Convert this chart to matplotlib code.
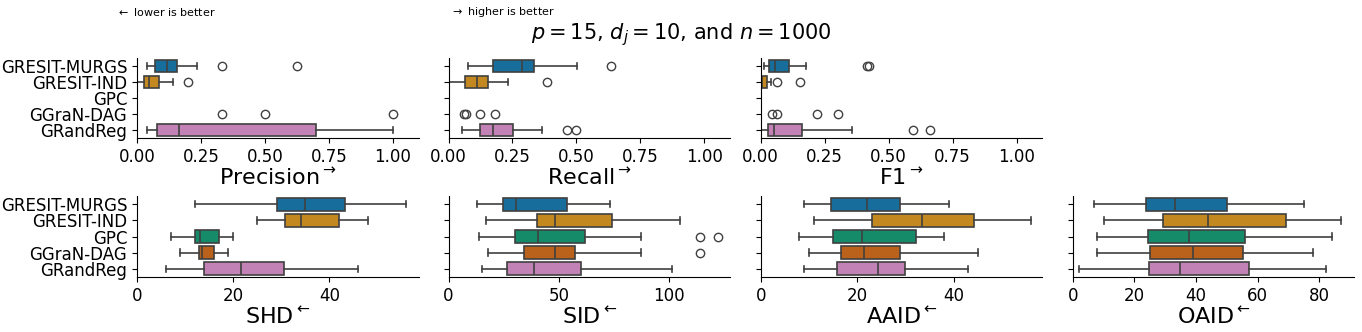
import matplotlib
matplotlib.use("Agg")
import matplotlib.pyplot as plt
import seaborn as sns

methods = ["GRESIT-MURGS", "GRESIT-IND", "GPC", "GGraN-DAG", "GRandReg"]

# box stats per method: (whislo, q1, median, q3, whishi); None = nothing to draw
precision_box = [(0.038, 0.07, 0.116, 0.157, 0.233),
                 (0.0, 0.027, 0.047, 0.086, 0.142),
                 None,
                 (0.0, 0.0, 0.0, 0.0, 0.0),
                 (0.038, 0.08, 0.164, 0.70, 1.0)]
precision_fliers = [[0.333, 0.625], [0.2], [], [0.333, 0.5, 1.0], []]

recall_box = [(0.078, 0.175, 0.288, 0.334, 0.503),
              (0.0, 0.065, 0.11, 0.156, 0.231),
              (0.0, 0.0, 0.0, 0.0, 0.0),
              (0.0, 0.0, 0.0, 0.0, 0.0),
              (0.052, 0.123, 0.173, 0.253, 0.366)]
recall_fliers = [[0.636], [0.386], [], [0.0625, 0.0667, 0.125, 0.182], [0.462, 0.5]]

f1_box = [(0.012, 0.032, 0.054, 0.109, 0.177),
          (0.0, 0.0, 0.005, 0.026, 0.04),
          (0.0, 0.0, 0.0, 0.0, 0.0),
          (0.0, 0.0, 0.0, 0.0, 0.0),
          (0.0, 0.028, 0.052, 0.162, 0.355)]
f1_fliers = [[0.417, 0.424], [0.065, 0.152], [], [0.044, 0.062, 0.22, 0.304], [0.596, 0.66]]

shd_box = [(12, 29.1, 35, 43.3, 56),
           (25, 30.8, 34.1, 42, 48),
           (7, 12, 13, 17, 20),
           (9, 12.8, 13.5, 16, 19),
           (6, 14, 21.6, 30.5, 46)]
shd_fliers = [[], [], [], [], []]

sid_box = [(13, 24.5, 30.5, 53.7, 73),
           (17, 40, 48.4, 74.1, 105),
           (14, 30.2, 40.6, 62, 87),
           (18, 34, 48.4, 57.3, 87),
           (15, 26.3, 38.6, 60, 101)]
sid_fliers = [[], [], [114, 122], [114], []]

aaid_box = [(9, 14.6, 22, 29, 39),
            (11, 23, 33.4, 44.3, 56),
            (8, 15, 21, 32.3, 38),
            (10, 16.6, 21.4, 28.9, 45),
            (9, 15.9, 24.4, 29.9, 43)]
aaid_fliers = [[], [], [], [], []]

oaid_box = [(7, 23.8, 33.3, 50.1, 75),
            (10, 29.4, 43.9, 69, 87),
            (8, 24.4, 37.8, 55.8, 84),
            (8, 24.9, 39, 55.2, 78),
            (2, 24.7, 34.9, 57, 82)]
oaid_fliers = [[], [], [], [], []]

colors = sns.color_palette("colorblind", 5, desat=0.75)
line_col = ".25"


def draw_boxes(ax, boxes, fliers):
    stats, pos, cols = [], [], []
    for i, (b, fl) in enumerate(zip(boxes, fliers)):
        if b is None:
            continue
        stats.append(dict(whislo=b[0], q1=b[1], med=b[2], q3=b[3], whishi=b[4], fliers=fl))
        pos.append(i)
        cols.append(colors[i])
    art = ax.bxp(stats, positions=pos, widths=0.8, orientation="horizontal",
                 patch_artist=True, manage_ticks=False,
                 boxprops=dict(edgecolor=line_col, linewidth=1.2),
                 whiskerprops=dict(color=line_col, linewidth=1.2),
                 capprops=dict(color=line_col, linewidth=1.2),
                 medianprops=dict(color=line_col, linewidth=1.2),
                 flierprops=dict(marker="o", markerfacecolor="none",
                                 markeredgecolor=line_col, markersize=6))
    for patch, c in zip(art["boxes"], cols):
        patch.set_facecolor(c)
    ax.set_ylim(4.5, -0.5)
    ax.set_yticks(range(len(methods)))
    ax.spines["top"].set_visible(False)
    ax.spines["right"].set_visible(False)


fig = plt.figure(figsize=(13.62, 3.32), dpi=100)
W, H = 1362.0, 332.0
lefts = [137, 448.5, 760.7, 1072.7]
width = 281.5

top_panels = [(precision_box, precision_fliers, r"Precision$^{\rightarrow}$"),
              (recall_box, recall_fliers, r"Recall$^{\rightarrow}$"),
              (f1_box, f1_fliers, r"F1$^{\rightarrow}$")]
bottom_panels = [(shd_box, shd_fliers, r"SHD$^{\leftarrow}$", [0, 20, 40]),
                 (sid_box, sid_fliers, r"SID$^{\leftarrow}$", [0, 50, 100]),
                 (aaid_box, aaid_fliers, r"AAID$^{\leftarrow}$", [0, 20, 40]),
                 (oaid_box, oaid_fliers, r"OAID$^{\leftarrow}$", [0, 20, 40, 60, 80])]

for j, (boxes, fl, label) in enumerate(top_panels):
    ax = fig.add_axes([lefts[j] / W, 1 - 138 / H, width / W, 80 / H])
    draw_boxes(ax, boxes, fl)
    ax.set_xlim(0, 1.1)
    ax.set_xticks([0, 0.25, 0.5, 0.75, 1.0])
    ax.set_xticklabels(["0.00", "0.25", "0.50", "0.75", "1.00"])
    ax.set_xlabel(label, fontsize=16, labelpad=1)
    ax.tick_params(labelsize=12)
    if j == 0:
        ax.set_yticklabels(methods)
    else:
        ax.set_yticklabels([])

for j, (boxes, fl, label, ticks) in enumerate(bottom_panels):
    ax = fig.add_axes([lefts[j] / W, 1 - 277 / H, width / W, 81 / H])
    draw_boxes(ax, boxes, fl)
    ax.autoscale(axis="x")
    lo, hi = ax.get_xlim()
    ax.set_xlim(0, hi)
    ax.set_xticks(ticks)
    ax.set_xlabel(label, fontsize=16, labelpad=1)
    ax.tick_params(labelsize=12)
    if j == 0:
        ax.set_yticklabels(methods)
    else:
        ax.set_yticklabels([])

fig.text(116 / W, 1 - 12 / H, r"$\leftarrow$ lower is better", fontsize=8, va="center")
fig.text(450 / W, 1 - 12 / H, r"$\rightarrow$ higher is better", fontsize=8, va="center")
fig.suptitle(r"$p = 15$, $d_j = 10$, and $n = 1000$", fontsize=15, y=1 - 35 / H, va="center")

fig.savefig("out.png", dpi=100)
